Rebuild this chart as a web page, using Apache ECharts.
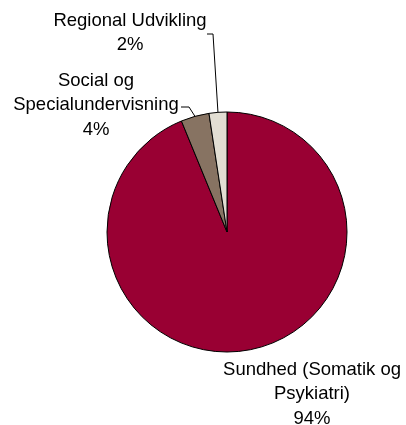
<!DOCTYPE html>
<html>
<head>
<meta charset="utf-8">
<script src="https://cdn.jsdelivr.net/npm/echarts@6/dist/echarts.min.js"></script>
<style>
html,body{margin:0;padding:0;background:#fff;}
#c{width:406px;height:425px;}
</style>
</head>
<body>
<div id="c"></div>
<script>
var categories = ['Sundhed (Somatik og\nPsykiatri)', 'Social og\nSpecialundervisning', 'Regional Udvikling'];
var values = [93.8, 3.8, 2.4];
var colors = ['#990033', '#877362', '#E2DED3'];

var labelSpots = [
  {x: 312, y: 394, line: false},
  {x: 96, y: 105, line: true, elbow: [[189, 107], [181, 107]]},
  {x: 130, y: 33, line: true, elbow: [[213, 34], [207, 34]]}
];

var data = categories.map(function (c, i) {
  return {
    name: c,
    value: values[i],
    itemStyle: {color: colors[i]},
    labelLine: {show: labelSpots[i].line}
  };
});

var chart = echarts.init(document.getElementById('c'), null, {renderer: 'canvas'});
chart.setOption({
  animation: false,
  series: [{
    type: 'pie',
    center: [227, 232],
    radius: 120,
    startAngle: 90,
    clockwise: true,
    percentPrecision: 0,
    avoidLabelOverlap: false,
    data: data,
    itemStyle: {borderColor: '#000', borderWidth: 1},
    label: {
      show: true,
      position: 'outside',
      formatter: '{b}\n{d}%',
      fontFamily: 'Liberation Sans, Arial, sans-serif',
      fontSize: 18.5,
      lineHeight: 24.5,
      color: '#000',
      align: 'center'
    },
    labelLine: {
      lineStyle: {color: '#000', width: 1}
    },
    labelLayout: function (p) {
      var s = labelSpots[p.dataIndex];
      var out = {x: s.x, y: s.y, align: 'center', verticalAlign: 'middle'};
      if (s.line && p.labelLinePoints) {
        var edge = p.labelLinePoints[0];
        out.labelLinePoints = [edge].concat(s.elbow);
      }
      return out;
    }
  }]
});
</script>
</body>
</html>
